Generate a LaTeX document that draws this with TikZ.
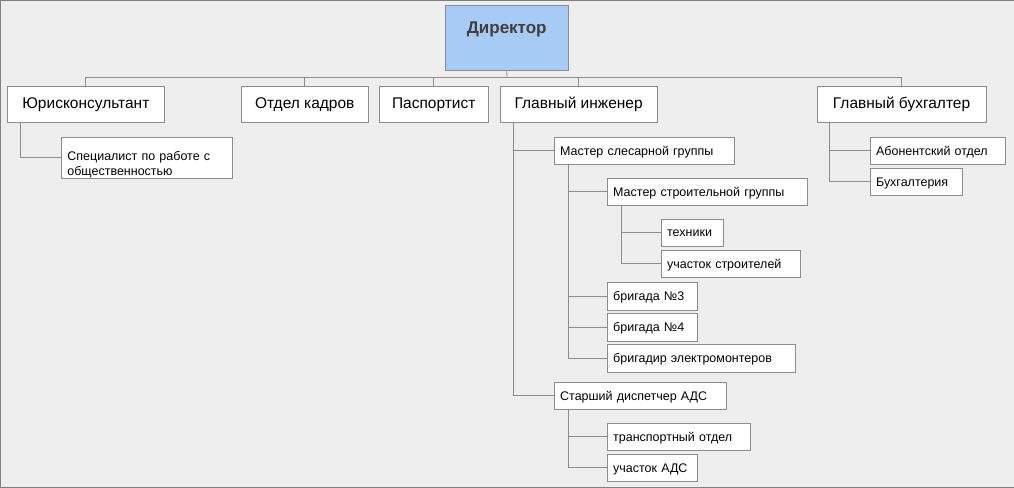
\documentclass[tikz,border=0pt]{standalone}
\usepackage{fontspec}
\setmainfont{Liberation Sans}
\begin{document}
\begin{tikzpicture}[x=1pt,y=-1pt,
  every node/.style={draw=black!45,fill=white,anchor=north west,inner sep=0pt},
  big/.style={font=\fontsize{15.5}{18}\selectfont,align=center},
  small/.style={font=\fontsize{12.5}{15}\selectfont,align=left,inner xsep=6pt,text depth=0pt},
  link/.style={draw=black!45,line width=0.8pt},
]
\fill[black!6.5,draw=black!50] (0,0) rectangle (1014,487);
\node[fill={rgb,255:red,166;green,204;blue,245},minimum width=123,text height=28,text depth=37,
  font=\fontsize{17}{20}\selectfont\bfseries,text=black!75] (dir) at (445,5) {Директор};
% first level
\node[big,minimum width=157,minimum height=36] (jur) at (7,86) {Юрисконсультант};
\node[big,minimum width=127,minimum height=36] (kadr) at (241,86) {Отдел кадров};
\node[big,minimum width=109,minimum height=36] (pasp) at (379,86) {Паспортист};
\node[big,minimum width=157,minimum height=36] (gi) at (500,86) {Главный инженер};
\node[big,minimum width=169,minimum height=36] (gb) at (817,86) {Главный бухгалтер};
\coordinate (bus) at (507,77);
\draw[link] (dir.south) -- (bus);
\foreach \n in {jur,kadr,pasp,gi,gb}
  \draw[link] (bus) -| (\n.north);
% second level
\node[small,text width=159,text depth=4pt,minimum height=41] (spec) at (61,137) {Специалист по работе с\\общественностью};
\node[small,text width=168,minimum height=27] (msg) at (554,137) {Мастер слесарной группы};
\node[small,text width=188,minimum height=27] (mstr) at (607,178) {Мастер строительной группы};
\node[small,text width=50,minimum height=27] (tech) at (661,219) {техники};
\node[small,text width=127,minimum height=27] (uchs) at (661,250) {участок строителей};
\node[small,text width=78,minimum height=28] (br3) at (607,282) {бригада №3};
\node[small,text width=78,minimum height=28] (br4) at (607,313) {бригада №4};
\node[small,text width=176,minimum height=28] (brel) at (607,344) {бригадир электромонтеров};
\node[small,text width=160,minimum height=27] (disp) at (554,382) {Старший диспетчер АДС};
\node[small,text width=131,minimum height=27] (trans) at (607,423) {транспортный отдел};
\node[small,text width=78,minimum height=27] (uads) at (607,454) {участок АДС};
\node[small,text width=123,minimum height=27] (abon) at (870,137) {Абонентский отдел};
\node[small,text width=80,minimum height=27] (buh) at (870,168) {Бухгалтерия};
% connectors
\draw[link] ([xshift=13]jur.south west) |- (spec.west);
\foreach \n in {msg,disp}
  \draw[link] ([xshift=13]gi.south west) |- (\n.west);
\foreach \n in {mstr,br3,br4,brel}
  \draw[link] ([xshift=14]msg.south west) |- (\n.west);
\foreach \n in {tech,uchs}
  \draw[link] ([xshift=14]mstr.south west) |- (\n.west);
\foreach \n in {trans,uads}
  \draw[link] ([xshift=14]disp.south west) |- (\n.west);
\foreach \n in {abon,buh}
  \draw[link] ([xshift=13]gb.south west) |- (\n.west);
\end{tikzpicture}
\end{document}
